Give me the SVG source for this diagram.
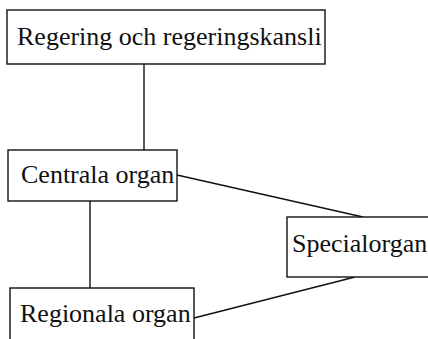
<svg xmlns="http://www.w3.org/2000/svg" width="428" height="339" viewBox="0 0 428 339">
<style>
.box{fill:#fff;stroke:#111;stroke-width:1.4}
.lbl{font-family:"Liberation Serif","Times New Roman",serif;font-size:26px;fill:#111}
.con{fill:none;stroke:#111;stroke-width:1.4}
</style>
<rect width="428" height="339" fill="#fff"/>
<g id="connectors">
<line class="con" x1="144" y1="64" x2="144" y2="150"/>
<line class="con" x1="90" y1="201" x2="90" y2="288"/>
<line class="con" x1="177" y1="175" x2="363" y2="217"/>
<line class="con" x1="194" y1="318" x2="355" y2="277"/>
</g>
<g id="regering">
<rect class="box" x="7" y="10" width="318" height="54"/>
<text class="lbl" x="17" y="45">Regering och regeringskansli</text>
</g>
<g id="centrala">
<rect class="box" x="8" y="150" width="169" height="51"/>
<text class="lbl" x="21" y="183">Centrala organ</text>
</g>
<g id="regionala">
<rect class="box" x="10" y="288" width="184" height="60"/>
<text class="lbl" x="20" y="322">Regionala organ</text>
</g>
<g id="special">
<rect class="box" x="287" y="217" width="160" height="60"/>
<text class="lbl" x="292" y="252">Specialorgan</text>
</g>
</svg>
